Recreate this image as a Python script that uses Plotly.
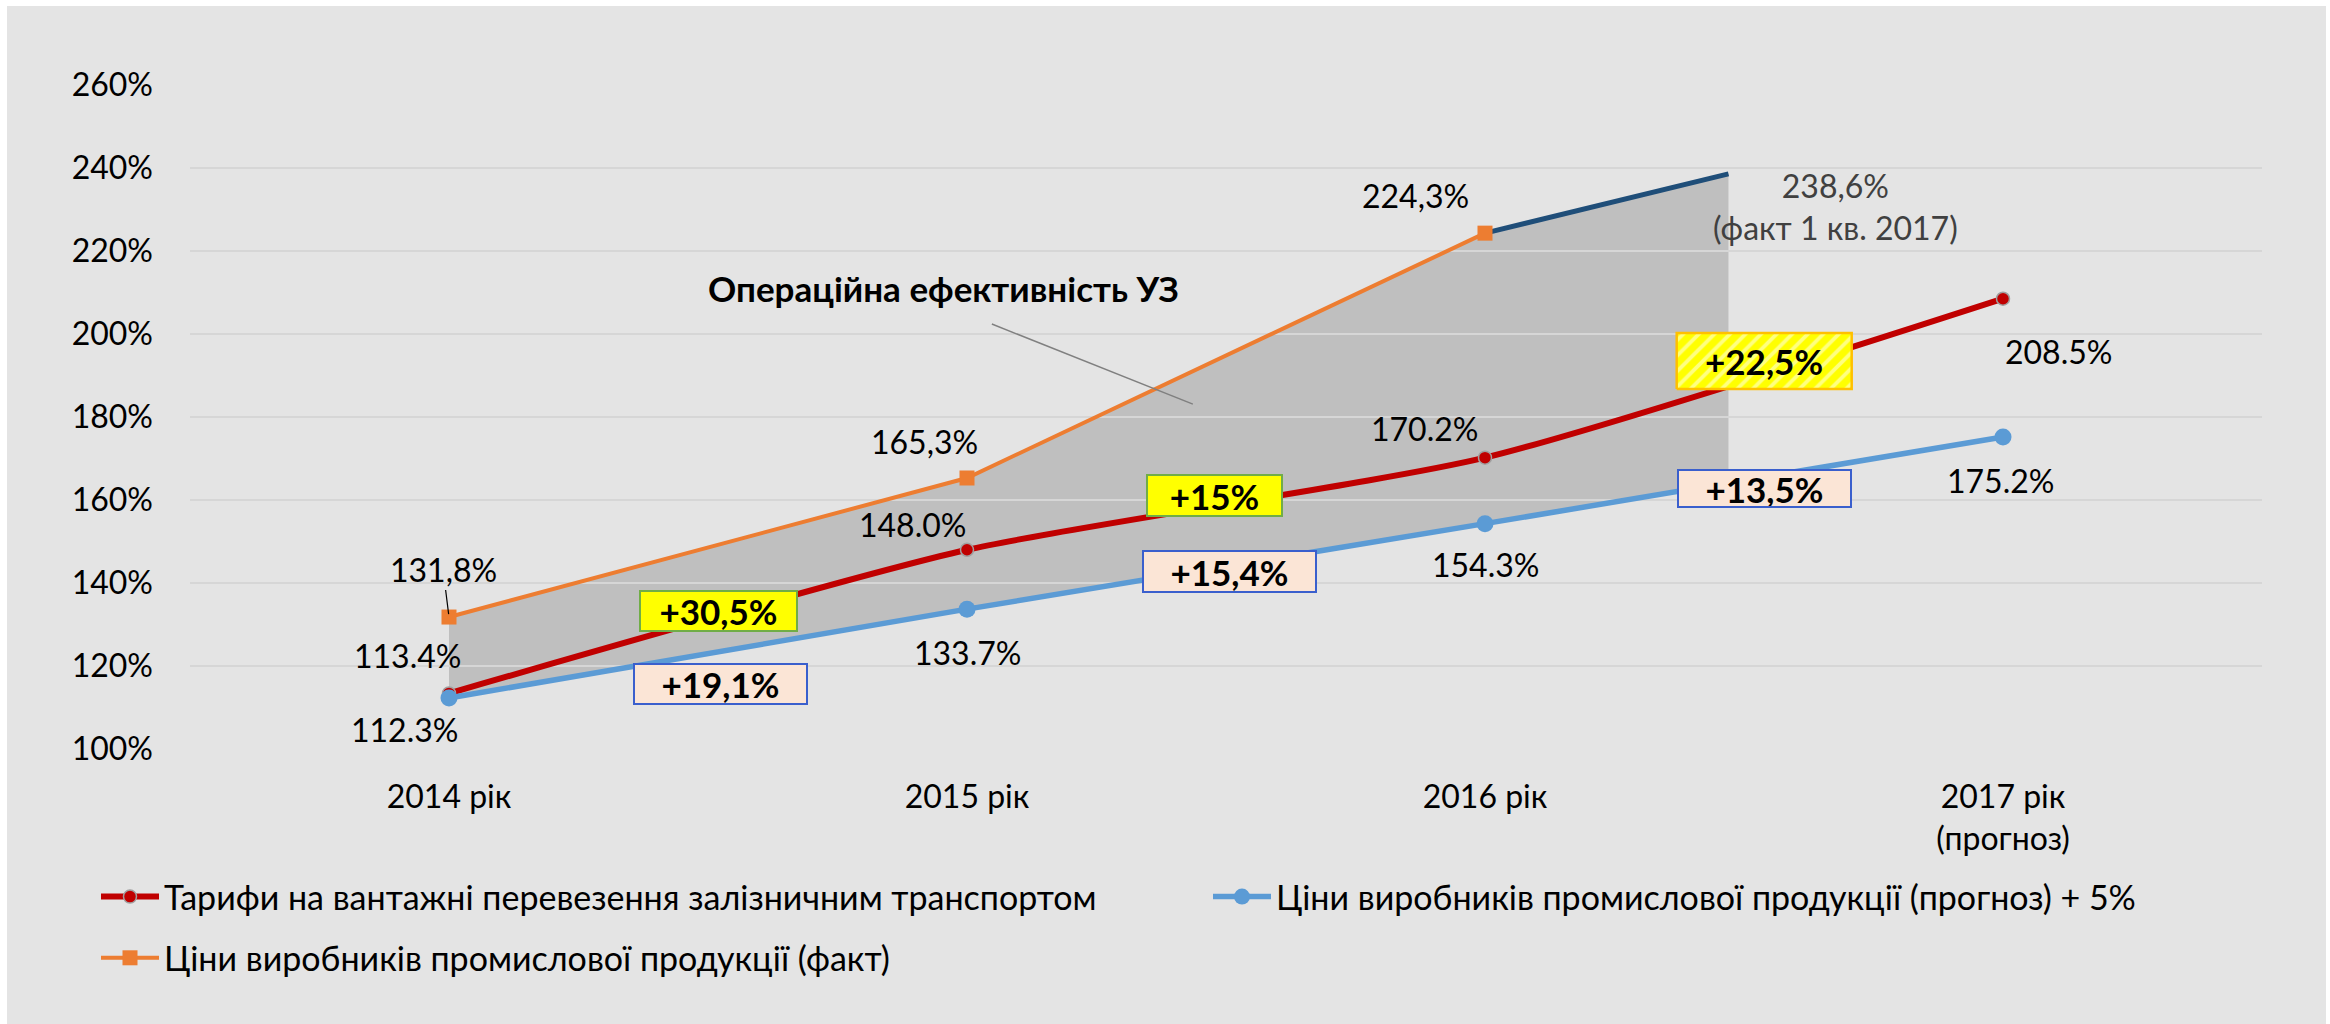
import numpy as np
import plotly.graph_objects as go

# ---------------- data ----------------
year_labels = ["2014 рік", "2015 рік", "2016 рік", "2017 рік<br>(прогноз)"]
year_pos = [0, 1, 2, 3]
tariffs = [113.4, 148.0, 170.2, 208.5]            # Тарифи на вантажні перевезення
prices_forecast = [112.3, 133.7, 154.3, 175.2]    # Ціни виробників (прогноз) + 5%
prices_fact = [131.8, 165.3, 224.3]               # Ціни виробників (факт)
q1_2017_fact = 238.6                              # факт 1 кв. 2017
q1_2017_pos = 2.47                                # position of Q1-2017 point on the year axis
tariff_growth = ["+30,5%", "+15%", "+22,5%"]
price_growth = ["+19,1%", "+15,4%", "+13,5%"]
y_ticks = [100, 120, 140, 160, 180, 200, 220, 240, 260]

# ---------------- layout constants ----------------
W, H = 2330, 1024
ML, MR, MT, MB = 190, 68, 85, 275
PW, PH = W - ML - MR, H - MT - MB
XR = [-0.5, 3.5]
YR = [100, 260]
PX_X = PW / (XR[1] - XR[0])
PX_Y = PH / (YR[1] - YR[0])

FONT = "Lato, 'Open Sans', sans-serif"
FS = 32
BG = "#E4E4E4"
RED = "#C00000"
BLUE = "#5B9BD5"
ORANGE = "#ED7D31"
DARKBLUE = "#1F4E79"


def px_to_paper_x(px):
    return (px - ML) / PW


def px_to_paper_y(py):
    return (H - MB - py) / PH


fig = go.Figure()

# dark blue Q1-2017 segment
fig.add_trace(go.Scatter(
    x=[year_pos[2], q1_2017_pos], y=[prices_fact[2], q1_2017_fact],
    mode="lines", line=dict(color=DARKBLUE, width=5),
    showlegend=False, hoverinfo="skip"))

fig.add_trace(go.Scatter(
    x=year_pos, y=tariffs, mode="lines+markers",
    name="Тарифи на вантажні перевезення залізничним транспортом",
    line=dict(color=RED, width=6, shape="spline", smoothing=0.6),
    marker=dict(symbol="circle", size=13, color=RED, line=dict(color="#A0A0A0", width=1.5)),
    legend="legend", legendgroup="a"))

fig.add_trace(go.Scatter(
    x=year_pos, y=prices_forecast, mode="lines+markers",
    name="Ціни виробників промислової продукції (прогноз) + 5%",
    line=dict(color=BLUE, width=5.5),
    marker=dict(symbol="circle", size=17, color=BLUE),
    legend="legend2"))

fig.add_trace(go.Scatter(
    x=year_pos[:len(prices_fact)], y=prices_fact, mode="lines+markers",
    name="Ціни виробників промислової продукції (факт)",
    line=dict(color=ORANGE, width=4),
    marker=dict(symbol="square", size=15, color=ORANGE),
    legend="legend", legendgroup="b"))

# ---------------- shaded "operational efficiency" area ----------------
q1_bottom = float(np.interp(q1_2017_pos, year_pos, prices_forecast))
top_pts = list(zip(year_pos[:len(prices_fact)], prices_fact)) + [(q1_2017_pos, q1_2017_fact)]
bot_pts = [(q1_2017_pos, q1_bottom)] + list(zip(year_pos[:len(prices_fact)], prices_forecast[:len(prices_fact)]))[::-1]
path = "M " + " L ".join(f"{x},{y}" for x, y in top_pts + bot_pts) + " Z"

shapes = [
    # gray page backdrop (white thin frame top/left/right)
    dict(type="rect", xref="paper", yref="paper", layer="below",
         x0=px_to_paper_x(7), x1=px_to_paper_x(2326),
         y0=px_to_paper_y(H + 5), y1=px_to_paper_y(6),
         fillcolor=BG, line=dict(width=0)),
    dict(type="path", xref="x", yref="y", layer="below", path=path,
         fillcolor="#BFBFBF", line=dict(width=0)),
    # leader line of the area caption
    dict(type="line", xref="x", yref="y", x0=1.048, y0=202.4, x1=1.436, y1=183.1,
         line=dict(color="#808080", width=1.5)),
]

annotations = []


def label(x, y, text, dx, dy, color="black"):
    annotations.append(dict(x=x, y=y, xref="x", yref="y", text=text, showarrow=False,
                            xshift=dx, yshift=dy, font=dict(family=FONT, size=FS, color=color)))


def fmt_dot(v):
    return f"{v:.1f}%"


def fmt_comma(v):
    return f"{v:.1f}%".replace(".", ",")


# tariff labels
for x, v, (dx, dy) in zip(year_pos, tariffs, [(-42, 38), (-55, 25), (-61, 29), (55, -53)]):
    label(x, v, fmt_dot(v), dx, dy)
# forecast labels
for x, v, (dx, dy) in zip(year_pos, prices_forecast, [(-45, -32), (0, -43), (0, -41), (-3, -44)]):
    label(x, v, fmt_dot(v), dx, dy)
# fact labels
annotations.append(dict(x=year_pos[0], y=prices_fact[0], xref="x", yref="y",
                        text=fmt_comma(prices_fact[0]), showarrow=True, arrowhead=0,
                        arrowwidth=1.2, arrowcolor="black", ax=-6, ay=-48, standoff=3,
                        font=dict(family=FONT, size=FS, color="black")))
for x, v, (dx, dy) in zip(year_pos[1:], prices_fact[1:], [(-43, 37), (-70, 38)]):
    label(x, v, fmt_comma(v), dx, dy)
# Q1 2017 label
annotations.append(dict(x=q1_2017_pos, y=q1_2017_fact, xref="x", yref="y",
                        text=fmt_comma(q1_2017_fact) + "<br>(факт 1 кв. 2017)",
                        showarrow=False, xshift=107, yshift=-33,
                        font=dict(family=FONT, size=FS, color="#404040")))

# caption of the shaded area
annotations.append(dict(x=0.955, y=211.1, xref="x", yref="y", text="<b>Операційна ефективність УЗ</b>",
                        showarrow=False, font=dict(family=FONT, size=35, color="black")))

# growth boxes
BOX_FS = 35
YELLOW_BOX = dict(bgcolor="#FFFF00", bordercolor="#70AD47")
PEACH_BOX = dict(bgcolor="#FBE5D6", bordercolor="#3A5FCD")
tariff_box_pos = [(0.521, 133.3, 159, 42), (1.477, 161.2, 137, 43), (2.539, 193.5, 175, 56)]
price_box_pos = [(0.525, 115.7, 175, 42), (1.506, 142.7, 175, 43), (2.539, 162.7, 175, 39)]

for i, (txt, (bx, by, bw, bh)) in enumerate(zip(tariff_growth, tariff_box_pos)):
    if i == 2:
        hw, hh = bw / 2 / PX_X, bh / 2 / PX_Y
        fig.add_trace(go.Scatter(
            x=[bx - hw, bx + hw, bx + hw, bx - hw, bx - hw],
            y=[by - hh, by - hh, by + hh, by + hh, by - hh],
            mode="lines", fill="toself", fillcolor="#FFFF00",
            fillpattern=dict(shape="/", bgcolor="#FFFF00", fgcolor="#FFFFFF",
                             size=11, solidity=0.35),
            line=dict(color="#FFC000", width=2.5),
            showlegend=False, hoverinfo="skip"))
        annotations.append(dict(x=bx, y=by, xref="x", yref="y", text=f"<b>{txt}</b>",
                                showarrow=False, font=dict(family=FONT, size=BOX_FS, color="black")))
    else:
        annotations.append(dict(x=bx, y=by, xref="x", yref="y", text=f"<b>{txt}</b>",
                                showarrow=False, width=bw - 4, height=bh - 4, borderpad=0,
                                borderwidth=2, font=dict(family=FONT, size=BOX_FS, color="black"),
                                **YELLOW_BOX))
for txt, (bx, by, bw, bh) in zip(price_growth, price_box_pos):
    annotations.append(dict(x=bx, y=by, xref="x", yref="y", text=f"<b>{txt}</b>",
                            showarrow=False, width=bw - 4, height=bh - 4, borderpad=0,
                            borderwidth=2, font=dict(family=FONT, size=BOX_FS, color="black"),
                            **PEACH_BOX))

LEG_FS = 34
fig.update_layout(
    width=W, height=H,
    margin=dict(l=ML, r=MR, t=MT, b=MB, autoexpand=False),
    paper_bgcolor="white", plot_bgcolor=BG,
    font=dict(family=FONT, size=FS, color="black"),
    shapes=shapes, annotations=annotations,
    xaxis=dict(range=XR, tickmode="array", tickvals=year_pos, ticktext=year_labels,
               showgrid=False, zeroline=False, showline=False, ticks="",
               ticklabelstandoff=26, tickfont=dict(family=FONT, size=FS, color="black"),
               fixedrange=True),
    yaxis=dict(range=YR, tickmode="array", tickvals=y_ticks,
               ticktext=[f"{t}%" for t in y_ticks],
               showgrid=True, gridcolor="#D6D6D6", gridwidth=2, zeroline=False,
               showline=False, ticks="", ticklabelstandoff=36,
               tickfont=dict(family=FONT, size=FS, color="black"), fixedrange=True),
    legend=dict(orientation="v", x=px_to_paper_x(96), xanchor="left",
                y=px_to_paper_y(868), yanchor="top", bgcolor="rgba(0,0,0,0)",
                font=dict(family=FONT, size=LEG_FS, color="black"), tracegroupgap=14,
                itemwidth=58),
    legend2=dict(orientation="v", x=px_to_paper_x(1208), xanchor="left",
                 y=px_to_paper_y(868), yanchor="top", bgcolor="rgba(0,0,0,0)",
                 font=dict(family=FONT, size=LEG_FS, color="black"), itemwidth=58),
    showlegend=True,
)

fig.write_html("out.html")
